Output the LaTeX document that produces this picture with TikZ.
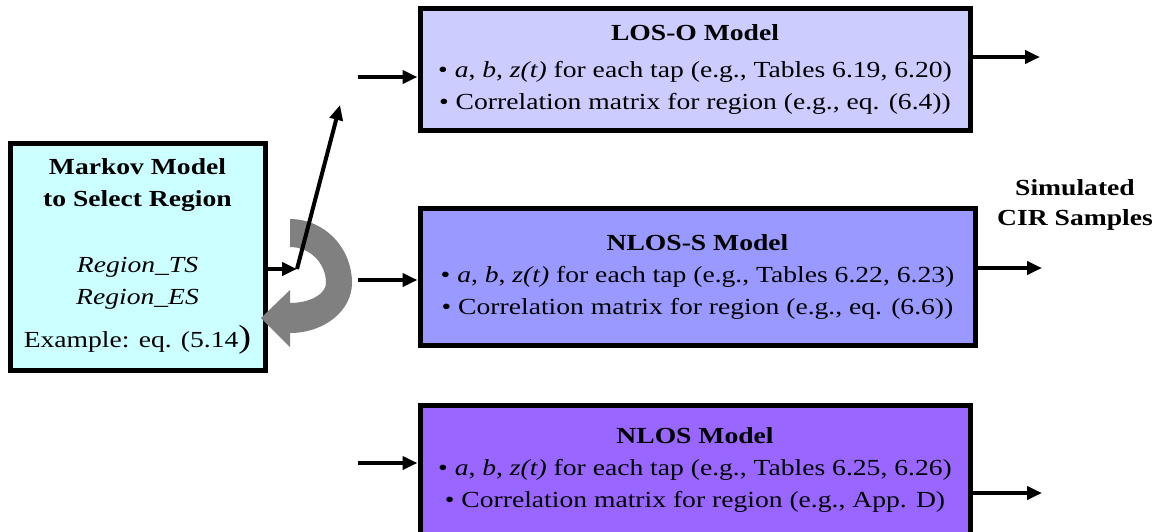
\documentclass[tikz,border=0pt]{standalone}
\usepackage{fontspec}
\setmainfont[FakeStretch=1.2]{Liberation Serif}
\usetikzlibrary{arrows.meta,positioning}
\definecolor{markovc}{HTML}{CCFFFF}
\definecolor{losoc}{HTML}{CCCCFF}
\definecolor{nlossc}{HTML}{9999FF}
\definecolor{nlosc}{HTML}{9966FF}
\definecolor{loopc}{HTML}{808080}

\begin{document}
\begin{tikzpicture}[x=1pt,y=-1pt]
    \tikzstyle{modelbox}=[draw,line width=5pt,inner sep=0pt,align=center,
        font=\fontsize{23}{32}\selectfont]
    \tikzstyle{flow}=[line width=4pt,-{Triangle[length=15pt,width=13pt]}]
    \useasboundingbox (0,0) rectangle (1157,531);

    % selector and the three models
    \node [modelbox,fill=markovc,minimum width=255pt,minimum height=227pt] (markov) at (137.5,256.5)
        {\textbf{Markov Model}\\ \textbf{to Select Region}\\[34pt]
         \textit{Region\_TS}\\ \textit{Region\_ES}\\[11pt]
         Example: eq. (5.14{\fontsize{32}{32}\selectfont)}};
    \node [modelbox,fill=losoc,minimum width=550pt,minimum height=122pt] (loso) at (695,69)
        {\textbf{LOS-O Model}\\[5pt]
         \textbullet\ \textit{a}, \textit{b}, \textit{z(t)} for each tap (e.g., Tables 6.19, 6.20)\\
         \textbullet\ Correlation matrix for region (e.g., eq. (6.4))};
    \node [modelbox,fill=nlossc,minimum width=555pt,minimum height=137pt] (nloss) at (697.5,276.5)
        {\textbf{NLOS-S Model}\\
         \textbullet\ \textit{a}, \textit{b}, \textit{z(t)} for each tap (e.g., Tables 6.22, 6.23)\\
         \textbullet\ Correlation matrix for region (e.g., eq. (6.6))};
    \node [modelbox,fill=nlosc,minimum width=550pt,minimum height=130pt] (nlos) at (695,470)
        {\textbf{NLOS Model}\\
         \textbullet\ \textit{a}, \textit{b}, \textit{z(t)} for each tap (e.g., Tables 6.25, 6.26)\\
         \textbullet\ Correlation matrix for region (e.g., App. D)};
    \node [font=\fontsize{23}{30}\selectfont\bfseries,align=center] (cir) at (1075,205)
        {Simulated\\ CIR Samples};

    % switching loop
    \fill [loopc] (290,219) arc [start angle=-90,end angle=0,x radius=62,y radius=64]
        arc [start angle=0,end angle=90,x radius=62,y radius=50]
        -- (290,347) -- (261,318) -- (290,290) -- (290,303)
        arc [start angle=90,end angle=0,x radius=36,y radius=20]
        arc [start angle=0,end angle=-90,x radius=36,y radius=36] -- cycle;

    % switch
    \coordinate (sw) at (297,269);
    \coordinate (swtip) at (340,105);
    \draw [flow] (markov.east |- sw) -- (sw);
    \draw [flow] (sw) -- (swtip);

    % inputs
    \coordinate (in1) at (358,77);
    \coordinate (in2) at (358,280);
    \coordinate (in3) at (358,463);
    \draw [flow] (in1) -- (in1 -| loso.west);
    \draw [flow] (in2) -- (in2 -| nloss.west);
    \draw [flow] (in3) -- (in3 -| nlos.west);

    % outputs
    \coordinate (out1) at (1040,57);
    \coordinate (out2) at (1042,268);
    \coordinate (out3) at (1042,493);
    \draw [flow] (out1 -| loso.east) -- (out1);
    \draw [flow] (out2 -| nloss.east) -- (out2);
    \draw [flow] (out3 -| nlos.east) -- (out3);
\end{tikzpicture}
\end{document}
